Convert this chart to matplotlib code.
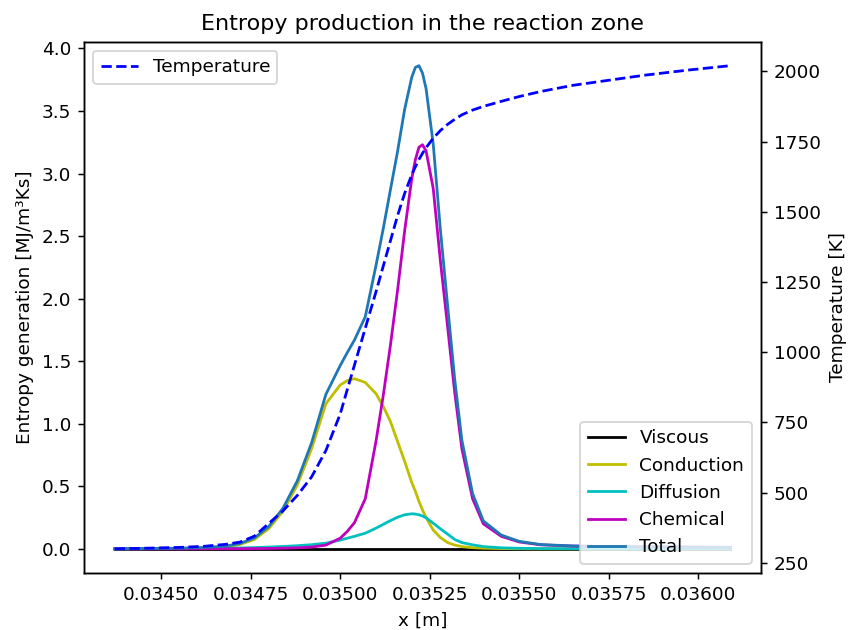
"""
Entropy production in the reaction zone: source terms (left axis)
and flame temperature (right axis, dashed).
"""
import matplotlib
matplotlib.use("Agg")
import matplotlib.pyplot as plt

DPI = 133.33

# axial position [m]
x = [0.03437, 0.03445, 0.03455, 0.03462, 0.03468, 0.03472, 0.03476,
     0.03480, 0.03484, 0.03488, 0.03492, 0.03496, 0.03500, 0.03502,
     0.03504, 0.03507, 0.03510, 0.03512, 0.03514, 0.03516, 0.03518,
     0.03520, 0.03521, 0.03522, 0.03523, 0.03524, 0.03526, 0.03528,
     0.03530, 0.03532, 0.03534, 0.03537, 0.03540, 0.03545, 0.03550,
     0.03556, 0.03565, 0.03575, 0.03585, 0.03597, 0.03609]

# entropy generation terms [MJ/m3Ks]
viscous = [0.0, 0.0, 0.0, 0.0, 0.0, 0.0, 0.0, 0.0, 0.0, 0.0, 0.0,
           0.0, 0.0, 0.0, 0.0, 0.0, 0.0, 0.0, 0.0, 0.0, 0.0, 0.0,
           0.0, 0.0, 0.0, 0.0, 0.0, 0.0, 0.0, 0.0, 0.0, 0.0, 0.0,
           0.0, 0.0, 0.0, 0.0, 0.0, 0.0, 0.0, 0.0]
conduction = [0.000, 0.001, 0.003, 0.007, 0.016, 0.035, 0.075, 0.16,
              0.30, 0.51, 0.80, 1.16, 1.31, 1.345, 1.36, 1.33, 1.24,
              1.14, 1.02, 0.86, 0.70, 0.53, 0.46, 0.38, 0.31, 0.25,
              0.15, 0.09, 0.05, 0.03, 0.018, 0.009, 0.005, 0.002,
              0.001, 0.0, 0.0, 0.0, 0.0, 0.0, 0.0]
diffusion = [0.000, 0.001, 0.002, 0.003, 0.005, 0.007, 0.010, 0.014,
             0.019, 0.025, 0.033, 0.045, 0.070, 0.085, 0.100, 0.125,
             0.165, 0.195, 0.225, 0.252, 0.272, 0.280, 0.278, 0.272,
             0.262, 0.248, 0.205, 0.160, 0.118, 0.075, 0.050, 0.032,
             0.018, 0.008, 0.004, 0.002, 0.001, 0.0, 0.0, 0.0, 0.0]
chemical = [0.000, 0.000, 0.000, 0.001, 0.001, 0.001, 0.002, 0.003,
            0.005, 0.008, 0.014, 0.030, 0.085, 0.14, 0.21, 0.40, 0.86,
            1.22, 1.62, 2.06, 2.54, 2.96, 3.11, 3.21, 3.23, 3.18, 2.88,
            2.30, 1.78, 1.25, 0.80, 0.40, 0.20, 0.10, 0.055, 0.032,
            0.022, 0.018, 0.016, 0.014, 0.012]
total = [0.000, 0.002, 0.005, 0.011, 0.022, 0.043, 0.087, 0.177, 0.324,
         0.543, 0.847, 1.235, 1.465, 1.57, 1.67, 1.855, 2.265, 2.555,
         2.865, 3.172, 3.512, 3.77, 3.848, 3.862, 3.802, 3.678, 3.235,
         2.55, 1.948, 1.355, 0.868, 0.441, 0.223, 0.110, 0.060, 0.034,
         0.023, 0.018, 0.016, 0.014, 0.012]

# temperature [K]
temperature = [300, 302, 305, 309, 316, 324, 345, 390, 435, 490, 556,
               650, 780, 868, 955, 1085, 1215, 1305, 1395, 1485, 1565,
               1632, 1660, 1686, 1708, 1728, 1762, 1789, 1811, 1829,
               1845, 1862, 1875, 1893, 1910, 1928, 1950, 1968, 1986,
               2004, 2020]

fig = plt.figure(figsize=(852 / DPI, 630 / DPI), dpi=DPI)
ax1 = fig.add_axes([0.0986, 0.0905, 0.7946, 0.8436])

ax1.plot(x, viscous, "k", label="Viscous")
ax1.plot(x, conduction, "y", label="Conduction")
ax1.plot(x, diffusion, "c", label="Diffusion")
ax1.plot(x, chemical, "m", label="Chemical")
ax1.plot(x, total, color="C0", label="Total")
ax1.set_xlabel("x [m]")
ax1.set_ylabel("Entropy generation [MJ/m³Ks]")
ax1.set_title("Entropy production in the reaction zone")
ax1.legend(loc="lower right")
ax1.ticklabel_format(axis="x", useOffset=False)

ax2 = ax1.twinx()
ax2.plot(x, temperature, "b--", label="Temperature")
ax2.set_ylabel("Temperature [K]")
ax2.legend(loc="upper left")

fig.savefig("out.png", dpi=DPI)
